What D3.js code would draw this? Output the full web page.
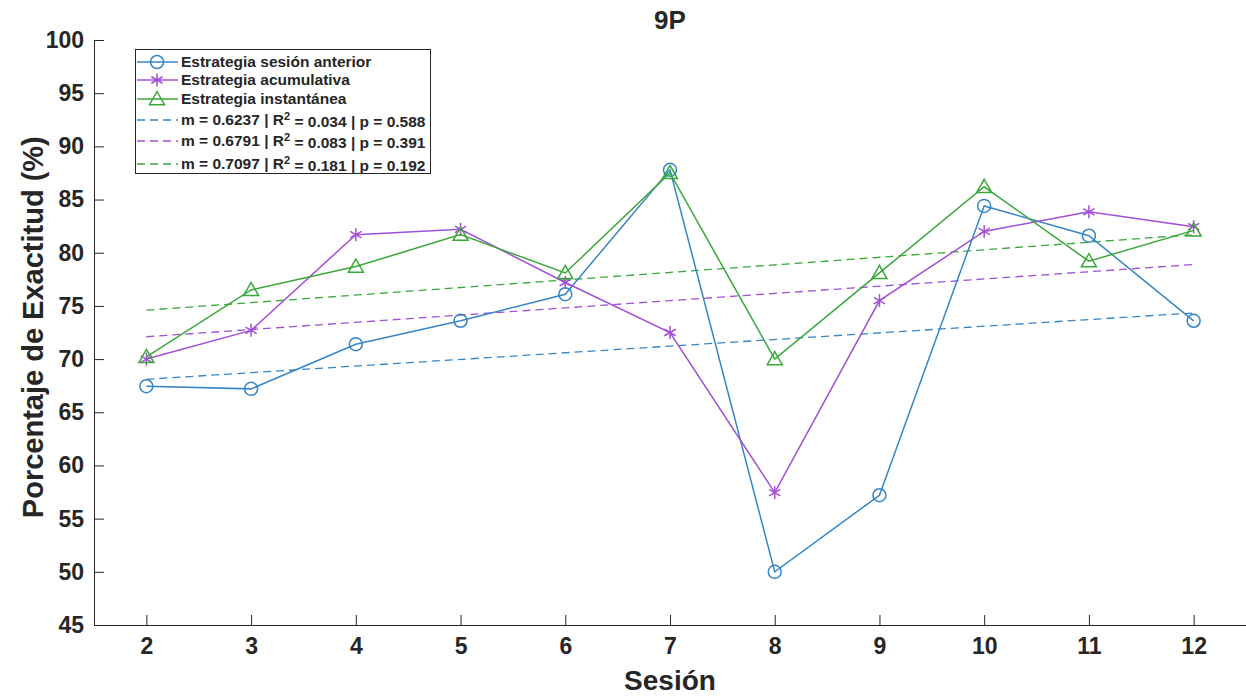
<!DOCTYPE html>
<html lang="es">
<head>
<meta charset="UTF-8">
<title>9P</title>
<script src="https://d3js.org/d3.v7.min.js"></script>
<style>
    body { margin: 0; background: #fff; overflow: hidden; }
    text { font-family: "Liberation Sans", Arial, Helvetica, sans-serif; font-weight: bold; fill: #262626; }
    .tick text { font-size: 23px; }
    .domain, .tick line { stroke: #262626; stroke-width: 1; }
</style>
</head>
<body>
<svg id="chart" width="1246" height="696"></svg>
<script>
// --- data ---
const sessions = [2, 3, 4, 5, 6, 7, 8, 9, 10, 11, 12];
const anterior = [67.45, 67.2, 71.4, 73.6, 76.1, 87.8, 50.0, 57.2, 84.4, 81.6, 73.6];
const acumulativa = [70.0, 72.7, 81.7, 82.2, 77.2, 72.5, 57.45, 75.5, 82.0, 83.85, 82.45];
const instantanea = [70.2, 76.5, 78.7, 81.7, 78.1, 87.5, 70.0, 78.1, 86.2, 79.2, 82.1];
const seriesNames = ["Estrategia sesión anterior", "Estrategia acumulativa", "Estrategia instantánea"];
const slopes = [0.6237, 0.6791, 0.7097];
const trendStart = [68.1, 72.1, 74.6];   // fitted value at session 2
const r2 = ["0.034", "0.083", "0.181"];
const pvals = ["0.588", "0.391", "0.192"];
const yTicks = [45, 50, 55, 60, 65, 70, 75, 80, 85, 90, 95, 100];

const colors = ["#3686c6", "#a24fd6", "#3aa83a"];
const markers = ["circle", "star", "triangle"];
const seriesVals = [anterior, acumulativa, instantanea];

const svg = d3.select("#chart");
const margin = { left: 94, right: 0, top: 40, bottom: 71 };
const W = 1246, H = 696;

const x = d3.scaleLinear().domain([1.5, 12.5]).range([margin.left, W - margin.right]);
const y = d3.scaleLinear().domain([45, 100]).range([H - margin.bottom, margin.top]);

// axes (ticks pointing inward, no box)
svg.append("g")
    .attr("transform", `translate(0,${y(45)})`)
    .call(d3.axisBottom(x).tickValues(sessions).tickSize(-10).tickPadding(13).tickSizeOuter(0))
    .call(g => g.selectAll(".tick text").attr("dy", "0.71em"));

svg.append("g")
    .attr("transform", `translate(${x(1.5)},0)`)
    .call(d3.axisLeft(y).tickValues(yTicks).tickSize(-10).tickPadding(10).tickSizeOuter(0));

// title and labels
svg.append("text").attr("x", x(7)).attr("y", 29).attr("text-anchor", "middle")
    .style("font-size", "26px").text("9P");
svg.append("text").attr("x", x(7)).attr("y", 690).attr("text-anchor", "middle")
    .style("font-size", "28px").text("Sesión");
svg.append("text").attr("transform", `translate(43,${y(73)}) rotate(-90)`)
    .attr("text-anchor", "middle").style("font-size", "29px").text("Porcentaje de Exactitud (%)");

function drawMarker(g, type, cx, cy, color) {
    if (type === "circle") {
        g.append("circle").attr("cx", cx).attr("cy", cy).attr("r", 6.5)
            .attr("fill", "none").attr("stroke", color).attr("stroke-width", 1.5);
    } else if (type === "triangle") {
        const s = 7.5;
        g.append("path")
            .attr("d", `M${cx},${cy - s} L${cx + s},${cy + s * 0.75} L${cx - s},${cy + s * 0.75} Z`)
            .attr("fill", "none").attr("stroke", color).attr("stroke-width", 1.5);
    } else {
        const r = 6.5;
        for (let k = 0; k < 3; k++) {
            const a = Math.PI / 2 + k * Math.PI / 3;
            g.append("line")
                .attr("x1", cx + r * Math.cos(a)).attr("y1", cy + r * Math.sin(a))
                .attr("x2", cx - r * Math.cos(a)).attr("y2", cy - r * Math.sin(a))
                .attr("stroke", color).attr("stroke-width", 1.5);
        }
    }
}

const line = d3.line().x(d => x(d[0])).y(d => y(d[1]));

// trend lines (dashed)
const trends = svg.append("g");
slopes.forEach((m, i) => {
    const pts = [[2, trendStart[i]], [12, trendStart[i] + m * 10]];
    trends.append("path").attr("d", line(pts))
        .attr("fill", "none").attr("stroke", colors[i]).attr("stroke-width", 1.3)
        .attr("stroke-dasharray", "8,5");
});

// data series
seriesVals.forEach((vals, i) => {
    const g = svg.append("g");
    const pts = sessions.map((s, j) => [s, vals[j]]);
    g.append("path").attr("d", line(pts))
        .attr("fill", "none").attr("stroke", colors[i]).attr("stroke-width", 1.5);
    pts.forEach(p => drawMarker(g, markers[i], x(p[0]), y(p[1]), colors[i]));
});

// legend
const lg = svg.append("g");
lg.append("rect").attr("x", 135.5).attr("y", 49.5).attr("width", 295).attr("height", 124)
    .attr("fill", "#fff").attr("stroke", "#262626").attr("stroke-width", 1);
const rowsY = [62, 80, 99, 120, 141, 164];
seriesNames.forEach((name, i) => {
    const ry = rowsY[i];
    lg.append("line").attr("x1", 137).attr("x2", 178).attr("y1", ry).attr("y2", ry)
        .attr("stroke", colors[i]).attr("stroke-width", 1.5);
    drawMarker(lg, markers[i], 157, ry, colors[i]);
    lg.append("text").attr("x", 181).attr("y", ry).attr("dy", "0.35em")
        .style("font-size", "15.5px").text(name);
});
slopes.forEach((m, i) => {
    const ry = rowsY[i + 3];
    lg.append("line").attr("x1", 137).attr("x2", 178).attr("y1", ry).attr("y2", ry)
        .attr("stroke", colors[i]).attr("stroke-width", 1.3).attr("stroke-dasharray", "8,5");
    const t = lg.append("text").attr("x", 181).attr("y", ry).attr("dy", "0.35em")
        .style("font-size", "15.5px");
    t.append("tspan").text(`m = ${m.toFixed(4)} | R`);
    t.append("tspan").attr("dy", "-0.45em").style("font-size", "11px").text("2");
    t.append("tspan").attr("dy", "0.45em").text(` = ${r2[i]} | p = ${pvals[i]}`);
});
</script>
</body>
</html>
